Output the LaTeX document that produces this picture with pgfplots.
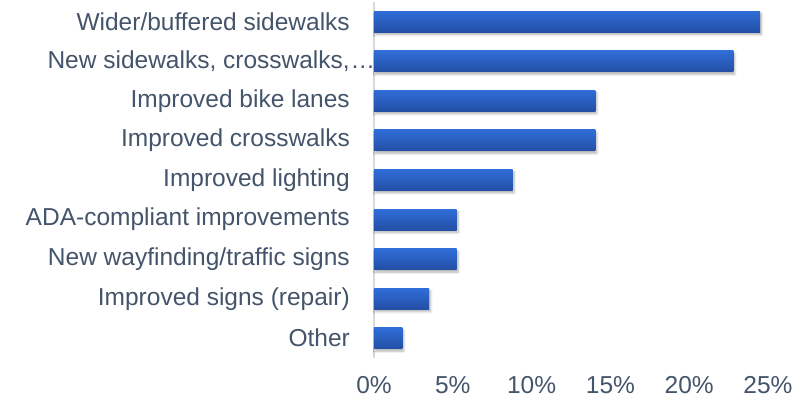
\documentclass[border=0pt]{standalone}
\usepackage{pgfplots}
\pgfplotsset{compat=1.18}
\usepackage{fontspec}
\setmainfont{Liberation Sans}
\usetikzlibrary{shadows.blur}
\definecolor{txt}{HTML}{44546A}
\definecolor{bartop}{HTML}{306DD8}
\definecolor{barbot}{HTML}{234FA5}
\definecolor{axisgray}{HTML}{D9D9D9}
\pgfplotsset{
    onebar/.style={draw=none, bar shift=0pt, top color=bartop, bottom color=barbot,
        blur shadow={shadow xshift=1.5bp, shadow yshift=-2.5bp, shadow opacity=30, shadow blur steps=6}},
}
\begin{document}
\begin{tikzpicture}
\useasboundingbox (0,0) rectangle (805bp,402bp);
\begin{axis}[
    at={(374bp,44bp)}, anchor=south west,
    scale only axis,
    width=394bp, height=356bp,
    xbar, bar width=21bp,
    xmin=0, xmax=25,
    ymin=-0.5, ymax=8.5,
    xtick={0,5,...,25},
    xticklabel={\pgfmathprintnumber{\tick}\%},
    ytick={0,...,8},
    yticklabels={Other, Improved signs (repair), New wayfinding/traffic signs,
        ADA-compliant improvements, Improved lighting, Improved crosswalks,
        Improved bike lanes, {New sidewalks, crosswalks,\rlap{\kern1bp…}}, Wider/buffered sidewalks},
    axis lines*=left,
    x axis line style={draw=none},
    y axis line style={draw=axisgray, line width=1.5bp},
    major tick length=0pt,
    tick label style={font=\fontsize{24.5bp}{28bp}\selectfont, text=txt},
    /pgf/number format/assume math mode=true,
    yticklabel style={inner sep=0pt, xshift=-24bp},
    xticklabel style={inner sep=0pt, yshift=-18bp},
    clip=false,
]
% one plot per bar so each bar gets its own gradient
\addplot[onebar] coordinates {(1.8,0)};
\addplot[onebar] coordinates {(3.5,1)};
\addplot[onebar] coordinates {(5.25,2)};
\addplot[onebar] coordinates {(5.25,3)};
\addplot[onebar] coordinates {(8.8,4)};
\addplot[onebar] coordinates {(14.05,5)};
\addplot[onebar] coordinates {(14.05,6)};
\addplot[onebar] coordinates {(22.8,7)};
\addplot[onebar] coordinates {(24.5,8)};
\end{axis}
\end{tikzpicture}
\end{document}
